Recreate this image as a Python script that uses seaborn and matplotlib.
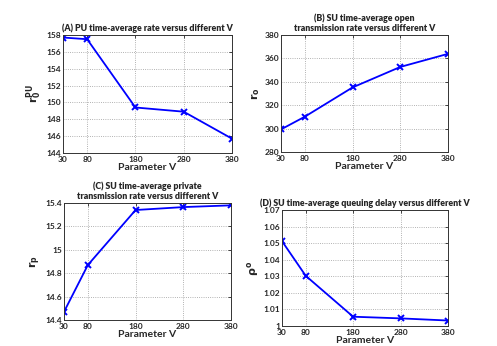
import matplotlib
matplotlib.use("Agg")
import matplotlib.pyplot as plt
import seaborn as sns
import pandas as pd

sns.set_style("white")
plt.rcParams['font.family'] = ['Lato', 'DejaVu Sans']

V = [30, 80, 180, 280, 380]
pu_rate = [157.7, 157.5, 149.4, 148.9, 145.7]
open_rate = [299.3, 310.2, 335.2, 352.7, 363.9]
private_rate = [14.47, 14.87, 15.34, 15.365, 15.38]
queue_delay = [1.0512, 1.0303, 1.0056, 1.0046, 1.0033]

titles = ["(A) PU time-average rate versus different V",
          "(B) SU time-average open\ntransmission rate versus different V",
          "(C) SU time-average private\ntransmission rate versus different V",
          "(D) SU time-average queuing delay versus different V"]
ylabels = [r"$\mathbf{r_0^{PU}}$", r"$\mathbf{r_o}$", r"$\mathbf{r_p}$", r"$\mathbf{\rho^o}$"]
yticks_list = [[144, 146, 148, 150, 152, 154, 156, 158],
               [280, 300, 320, 340, 360, 380],
               [14.4, 14.6, 14.8, 15.0, 15.2, 15.4],
               [1.0, 1.01, 1.02, 1.03, 1.04, 1.05, 1.06, 1.07]]
yticklabels_list = [["144", "146", "148", "150", "152", "154", "156", "158"],
                    ["280", "300", "320", "340", "360", "380"],
                    ["14.4", "14.6", "14.8", "15", "15.2", "15.4"],
                    ["1", "1.01", "1.02", "1.03", "1.04", "1.05", "1.06", "1.07"]]
series = [pu_rate, open_rate, private_rate, queue_delay]

W, H = 497, 346
fig = plt.figure(figsize=(W / 100, H / 100), dpi=100)
# pixel boxes: left, top, right, bottom
boxes = [(63, 35, 232, 153), (281, 35, 448, 152), (64, 203, 231, 320), (282, 210, 448, 326)]

for i in range(4):
    l, t, r, b = boxes[i]
    ax = fig.add_axes([l / W, 1 - b / H, (r - l) / W, (b - t) / H])
    df = pd.DataFrame({"V": V, "y": series[i]})
    sns.lineplot(data=df, x="V", y="y", ax=ax, color=(0, 0, 1), marker="x",
                 markersize=5, markeredgewidth=1.4, markeredgecolor=(0, 0, 1),
                 linewidth=1.3)
    ax.set_xlim(30, 380)
    ax.set_xticks(V)
    ax.set_xticklabels([str(v) for v in V], fontsize=6, fontweight="bold")
    yt = yticks_list[i]
    ax.set_ylim(yt[0], yt[-1])
    ax.set_yticks(yt)
    ax.set_yticklabels(yticklabels_list[i], fontsize=6, fontweight="bold")
    ax.grid(True, linestyle=":", color="#999999", linewidth=0.6)
    ax.tick_params(direction="in", length=2.5, width=0.6, top=True, right=True)
    ax.tick_params(axis="x", pad=2.5)
    ax.tick_params(axis="y", pad=1.5)
    for s in ax.spines.values():
        s.set_color("#333333")
        s.set_linewidth(0.7)
    ax.set_xlabel("Parameter V", fontsize=7.5, fontweight="bold", labelpad=0)
    ax.set_ylabel(ylabels[i], fontsize=8, labelpad=2)
    ax.set_title(titles[i], fontsize=6.3, fontweight="heavy", pad=3, linespacing=1.15)

fig.savefig("out.png", dpi=100)
